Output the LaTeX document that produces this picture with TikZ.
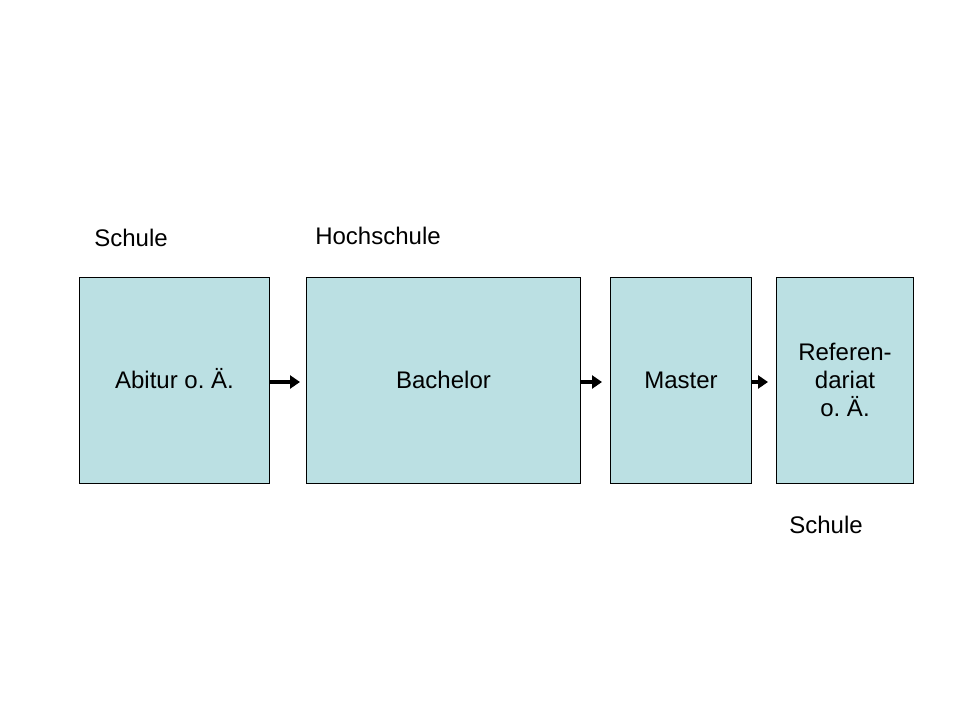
\documentclass[tikz,border=0pt]{standalone}
\usepackage{fontspec}
\setmainfont{Liberation Sans}
\usetikzlibrary{arrows.meta}
\frenchspacing
\newcommand\lnstrut{\rule[-7.8pt]{0pt}{31.8pt}}
\newcommand\topstrut{\rule{0pt}{24pt}}
\newcommand\botstrut{\rule[-7.8pt]{0pt}{7.8pt}}
\begin{document}
\begin{tikzpicture}[x=1pt,y=-1pt,
  stage/.style={draw=black,line width=1pt,fill=boxblue,inner sep=0pt,anchor=north west,font=\fontsize{24}{28}\selectfont,align=center},
  lbl/.style={font=\fontsize{24}{28}\selectfont,inner sep=0pt},
  conn/.style={line width=3.4pt,-{Triangle[length=10pt,width=13pt]}}]
\definecolor{boxblue}{HTML}{BBE0E3}
\useasboundingbox (0,0) rectangle (960,720);
\node[stage,minimum width=190pt,minimum height=206pt] (abi) at (79,277) {\lnstrut Abitur o. Ä.};
\node[stage,minimum width=274pt,minimum height=206pt] (bach) at (306,277) {\lnstrut Bachelor};
\node[stage,minimum width=141pt,minimum height=206pt] (mast) at (610,277) {\lnstrut Master};
\node[stage,minimum width=137pt,minimum height=206pt] (ref) at (776,277) {\topstrut Referen-\\dariat\\\botstrut o. Ä.};
\node[lbl] (s1) at (131,238) {Schule};
\node[lbl] (hs) at (378,236) {Hochschule};
\node[lbl] (s2) at (826,525) {Schule};
\coordinate (e1) at (300,382);
\coordinate (e2) at (602,382);
\coordinate (e3) at (768,382);
\draw[conn] (abi.east |- e1) -- (e1);
\draw[conn] (bach.east |- e2) -- (e2);
\draw[conn] (mast.east |- e3) -- (e3);
\end{tikzpicture}
\end{document}
